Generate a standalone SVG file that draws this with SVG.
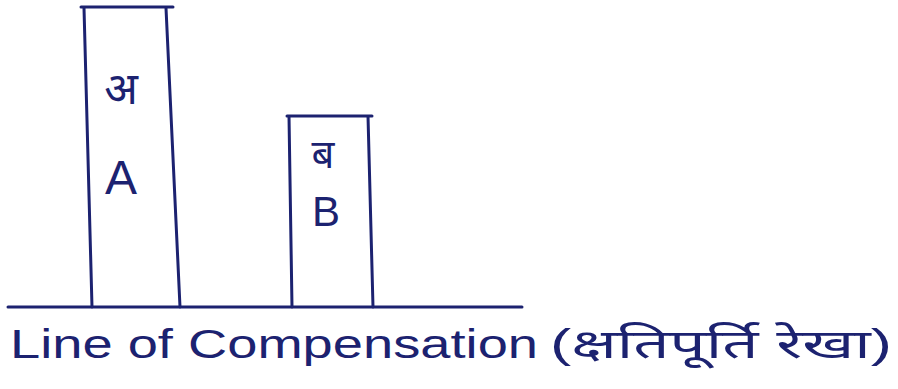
<svg xmlns="http://www.w3.org/2000/svg" width="898" height="389" viewBox="0 0 898 389">
<style>
.ln{stroke:#1c2270;stroke-width:3;fill:none;stroke-linecap:round}
.t{fill:#1c2270;font-family:"Liberation Sans","Noto Sans","Noto Sans CJK SC",sans-serif}
</style>
<rect width="898" height="389" fill="#ffffff"/>
<g id="connectors">
<line class="ln" x1="8" y1="307" x2="522" y2="307"/>
</g>
<g id="boxA">
<path class="ln" d="M81 7 L173 7 M84 8 L92 307 M166 8 L180 307"/>
<text class="t" x="121" y="104" font-size="44" text-anchor="middle">अ</text>
<text class="t" x="121" y="194" font-size="48" text-anchor="middle">A</text>
</g>
<g id="boxB">
<path class="ln" d="M287 116 L372 116 M289 116 L292 307 M368 116 L373 307"/>
<text class="t" x="323" y="168" font-size="40" text-anchor="middle">ब</text>
<text class="t" x="326" y="226" font-size="42" text-anchor="middle">B</text>
</g>
<g id="label">
<text class="t" x="10" y="358" font-size="40" textLength="528" lengthAdjust="spacingAndGlyphs">Line of Compensation</text>
<text class="t" x="550" y="358" font-size="40" textLength="342" lengthAdjust="spacingAndGlyphs">(क्षतिपूर्ति रेखा)</text>
</g>
</svg>
